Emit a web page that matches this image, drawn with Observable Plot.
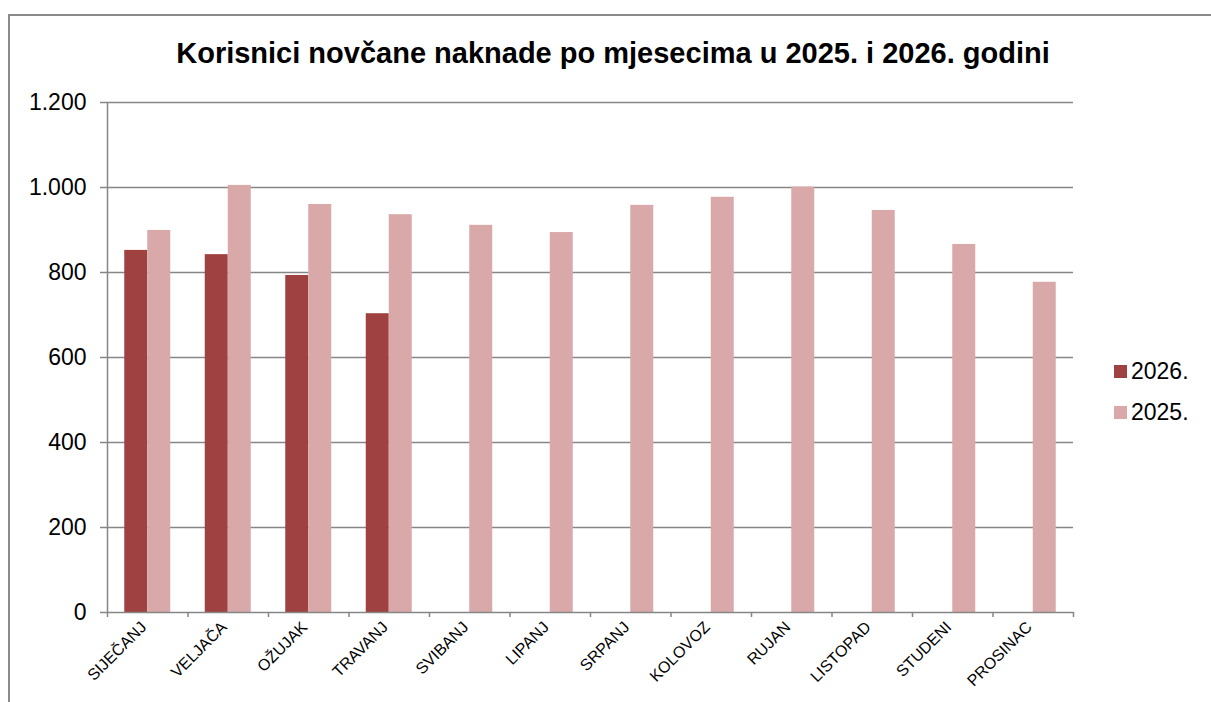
<!DOCTYPE html>
<html><head><meta charset="utf-8">
<script src="https://cdn.jsdelivr.net/npm/d3@7"></script>
<script src="https://cdn.jsdelivr.net/npm/@observablehq/plot@0.6"></script>
<style>
body{margin:0;background:#fff;font-family:"Liberation Sans",Arial,sans-serif;overflow:hidden;}
#frame{position:absolute;left:8px;top:14px;width:1300px;height:800px;border:2px solid #8a8a8a;box-sizing:border-box;}
#title{position:absolute;left:0;width:1226px;top:37px;text-align:center;font-weight:bold;font-size:29px;color:#000;}
#chart{position:absolute;left:0;top:0;}
#legend{position:absolute;left:1114px;top:351px;font-size:23px;color:#000;}
.item{display:flex;align-items:center;height:41px;}
.sw{width:13px;height:13px;margin-right:4px;}
</style></head>
<body>
<div id="frame"></div>
<div id="chart"></div>
<div id="title"></div>
<div id="legend"></div>
<script>
const titleText = "Korisnici novčane naknade po mjesecima u 2025. i 2026. godini";
const months = ["SIJEČANJ","VELJAČA","OŽUJAK","TRAVANJ","SVIBANJ","LIPANJ","SRPANJ","KOLOVOZ","RUJAN","LISTOPAD","STUDENI","PROSINAC"];
const values2026 = [852, 842, 793, 703];
const values2025 = [899, 1005, 960, 936, 911, 894, 958, 977, 1001, 946, 866, 777];
const seriesNames = ["2026.", "2025."];
const seriesColors = ["#9e4140", "#d9a9a9"];
const yTicks = [0, 200, 400, 600, 800, 1000, 1200];

document.getElementById("title").textContent = titleText;

// bar layout within each category: gap = 1.5 bar widths
const barW = 2/7, outer = 3/14;
const rows = [];
values2026.forEach((v, i) => rows.push({i, v, s: 0}));
values2025.forEach((v, i) => rows.push({i, v, s: 1}));

const fmt = d => d3.format(",")(d).replace(",", ".");
const gray = "#868686";

const chart = Plot.plot({
  width: 1211, height: 702,
  marginLeft: 107, marginRight: 138, marginTop: 102, marginBottom: 90,
  style: {fontFamily: '"Liberation Sans", Arial, sans-serif', background: "transparent", color: "#000"},
  x: {type: "linear", domain: [0, 12], axis: null},
  y: {domain: [0, 1200], axis: null},
  marks: [
    Plot.ruleY(yTicks.slice(1), {stroke: gray, strokeWidth: 1.5}),
    Plot.rect(rows, {
      x1: d => d.i + outer + d.s * barW,
      x2: d => d.i + outer + (d.s + 1) * barW,
      y1: 0, y2: "v",
      fill: d => seriesColors[d.s]
    }),
    Plot.ruleX([0], {stroke: gray, strokeWidth: 1.5}),
    Plot.ruleY([0], {stroke: gray, strokeWidth: 1.5}),
    Plot.axisY({ticks: yTicks, tickSize: 7, tickPadding: 14, tickFormat: fmt, fontSize: 23, stroke: gray, strokeWidth: 1.5, strokeOpacity: 1, label: null}),
    Plot.axisX({ticks: d3.range(13), tickSize: 5, tickFormat: () => "", stroke: gray, strokeWidth: 1.5, strokeOpacity: 1, label: null}),
    Plot.axisX({ticks: months.map((_, i) => i + 0.5), tickSize: 0, tickPadding: 12, dx: -4, tickRotate: -45, textAnchor: "end",
      tickFormat: d => months[Math.floor(d)], fontSize: 16, label: null})
  ]
});
document.getElementById("chart").append(chart);

const leg = document.getElementById("legend");
seriesNames.forEach((n, k) => {
  const it = document.createElement("div"); it.className = "item";
  const sw = document.createElement("div"); sw.className = "sw"; sw.style.background = seriesColors[k];
  const t = document.createElement("span"); t.textContent = n;
  it.append(sw, t); leg.append(it);
});
</script>
</body></html>
